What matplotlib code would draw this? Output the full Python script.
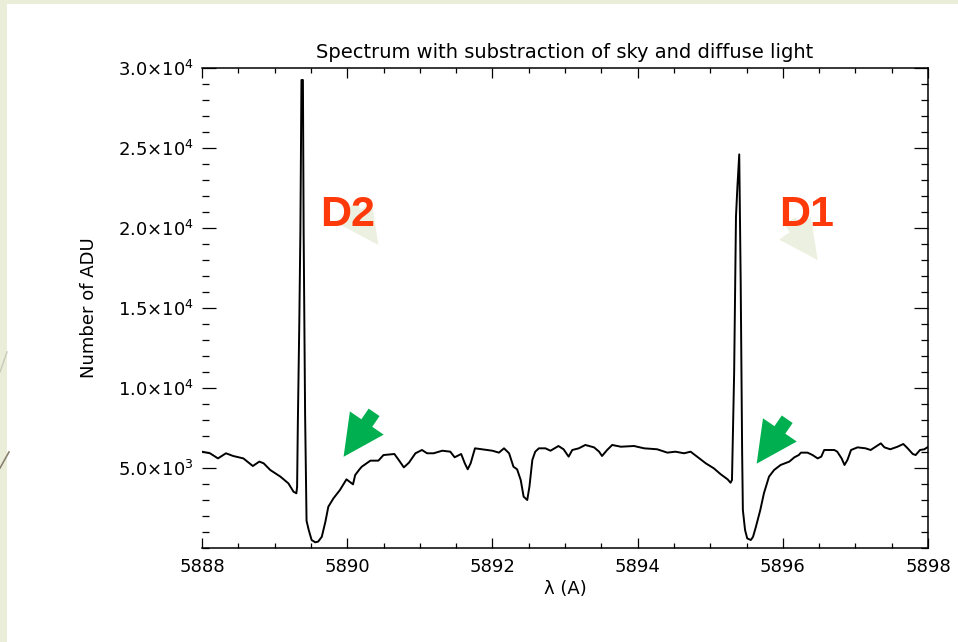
import numpy as np
import matplotlib
matplotlib.use('Agg')
import matplotlib.pyplot as plt
from matplotlib.ticker import MultipleLocator, FixedLocator
from matplotlib.patches import Rectangle
from matplotlib.lines import Line2D

# spectrum (wavelength in A, counts in ADU)
wavelength = [
    5888.00, 5888.11, 5888.22, 5888.33, 5888.43, 5888.57, 5888.70, 5888.79, 5888.85, 5888.94,
    5889.08, 5889.19, 5889.26, 5889.30, 5889.31, 5889.32, 5889.34, 5889.355, 5889.37, 5889.39,
    5889.40, 5889.42, 5889.44, 5889.47, 5889.51, 5889.56, 5889.60, 5889.65, 5889.70, 5889.74,
    5889.81, 5889.90, 5889.99, 5890.03, 5890.08, 5890.11, 5890.17, 5890.20, 5890.32, 5890.43,
    5890.50, 5890.65, 5890.71, 5890.78, 5890.85, 5890.94, 5891.03, 5891.10, 5891.19, 5891.31,
    5891.42, 5891.48, 5891.57, 5891.62, 5891.66, 5891.70, 5891.76, 5891.86, 5892.00, 5892.09,
    5892.16, 5892.23, 5892.29, 5892.34, 5892.39, 5892.43, 5892.48, 5892.51, 5892.55, 5892.59,
    5892.64, 5892.73, 5892.80, 5892.91, 5892.98, 5893.05, 5893.10, 5893.19, 5893.28, 5893.40,
    5893.47, 5893.51, 5893.58, 5893.65, 5893.77, 5893.95, 5894.09, 5894.27, 5894.41, 5894.52,
    5894.64, 5894.73, 5894.82, 5894.94, 5895.05, 5895.14, 5895.24, 5895.28, 5895.30, 5895.33,
    5895.355, 5895.375, 5895.40, 5895.42, 5895.44, 5895.45, 5895.48, 5895.51, 5895.56, 5895.59,
    5895.63, 5895.69, 5895.74, 5895.81, 5895.88, 5895.97, 5896.09, 5896.16, 5896.22, 5896.25,
    5896.34, 5896.41, 5896.48, 5896.53, 5896.57, 5896.71, 5896.75, 5896.81, 5896.85, 5896.89,
    5896.94, 5897.03, 5897.14, 5897.21, 5897.28, 5897.35, 5897.40, 5897.48, 5897.58, 5897.66,
    5897.72, 5897.79, 5897.83, 5897.89, 5897.95, 5897.99,
]
adu = [
    6020, 5920, 5600, 5920, 5750, 5600, 5125, 5400, 5290, 4875,
    4460, 4040, 3520, 3420, 3830, 7750, 14000, 19750, 29250, 29250,
    19750, 8400, 1700, 1125, 500, 355, 400, 700, 1650, 2580,
    3100, 3625, 4290, 4150, 3980, 4560, 4920, 5080, 5460, 5460,
    5810, 5875, 5500, 5040, 5330, 5920, 6125, 5920, 5920, 6080,
    6020, 5670, 5875, 5290, 4920, 5290, 6230, 6170, 6080, 5960,
    6230, 5920, 5080, 4920, 4250, 3210, 3000, 3830, 5500, 6020,
    6230, 6230, 6080, 6375, 6170, 5710, 6125, 6230, 6440, 6290,
    6020, 5750, 6125, 6440, 6330, 6375, 6230, 6170, 5960, 6020,
    5920, 6020, 5710, 5290, 4980, 4625, 4290, 4080, 4250, 11000,
    20700, 22600, 24600, 16600, 5940, 2375, 1125, 600, 500, 700,
    1330, 2375, 3420, 4460, 4875, 5190, 5400, 5670, 5810, 5960,
    5960, 5810, 5600, 5710, 6125, 6125, 6020, 5600, 5190, 5500,
    6125, 6290, 6230, 6125, 6330, 6540, 6290, 6170, 6330, 6500,
    6230, 5875, 5810, 6125, 6170, 6290,
]

x_ticks = [5888, 5890, 5892, 5894, 5896, 5898]
y_ticks = [5000, 10000, 15000, 20000, 25000, 30000]
y_labels = [r'$5.0{\times}10^{3}$', r'$1.0{\times}10^{4}$', r'$1.5{\times}10^{4}$',
            r'$2.0{\times}10^{4}$', r'$2.5{\times}10^{4}$', r'$3.0{\times}10^{4}$']

# line labels and where the green arrows point (wavelength, ADU)
line_names = ['D2', 'D1']
name_pos = [(5890.00, 20800), (5896.33, 20800)]
arrow_tips = [(5889.95, 5700), (5895.64, 5270)]
faint_tips = [(5890.43, 18940), (5896.48, 18000)]

plt.rcParams['mathtext.fontset'] = 'dejavusans'
fig = plt.figure(figsize=(9.58, 6.42), dpi=100)
fig.patch.set_facecolor('#eaeed9')
fig.patches.append(Rectangle((7 / 958, 0), 1, 1 - 4 / 642, transform=fig.transFigure,
                             facecolor='white', edgecolor='none', zorder=-10))
fig.lines.append(Line2D([0, 7 / 958], [1 - 372 / 642, 1 - 352 / 642], transform=fig.transFigure,
                        color='#c9c9b9', lw=1.0, zorder=-5))
fig.lines.append(Line2D([0, 9 / 958], [1 - 468 / 642, 1 - 452 / 642], transform=fig.transFigure,
                        color='#8a8270', lw=1.2, zorder=-5))

ax = fig.add_axes([202 / 958, 1 - 548 / 642, 726 / 958, 480 / 642])
ax.patch.set_alpha(0)
ax.plot(wavelength, adu, color='black', lw=1.4)
ax.set_xlim(5888, 5898)
ax.set_ylim(0, 30000)

ax.xaxis.set_major_locator(FixedLocator(x_ticks))
ax.xaxis.set_minor_locator(MultipleLocator(0.5))
ax.set_xticklabels([str(t) for t in x_ticks])
ax.yaxis.set_major_locator(FixedLocator(y_ticks))
ax.yaxis.set_minor_locator(MultipleLocator(1000))
ax.set_yticklabels(y_labels)

ax.tick_params(which='both', direction='in', top=True, right=True, width=0.9, labelsize=13)
ax.tick_params(axis='x', which='major', length=7, pad=7)
ax.tick_params(axis='x', which='minor', length=3.5)
ax.tick_params(axis='y', which='major', length=10, pad=6)
ax.tick_params(axis='y', which='minor', length=5)
ax.spines['left'].set_visible(False)
for s in ['top', 'right', 'bottom']:
    ax.spines[s].set_linewidth(1.1)

ax.set_title('Spectrum with substraction of sky and diffuse light', fontsize=14, pad=7)
ax.set_ylabel('Number of ADU', fontsize=13, labelpad=14)
ax.set_xlabel('\u03bb (A)', fontsize=13, labelpad=3)

# faint arrows behind the names
for tip in faint_tips:
    ax.annotate('', xy=tip, xytext=(-20, 28), textcoords='offset points',
                arrowprops=dict(arrowstyle='simple,head_length=2.8,head_width=2.8,tail_width=0.95',
                                color='#ecf0e0', lw=0, shrinkA=0, shrinkB=0))

for name, pos in zip(line_names, name_pos):
    ax.text(pos[0], pos[1], name, fontsize=31, fontweight='bold', color='#ff3a0a',
            ha='center', va='center', family='Liberation Sans')

for tip in arrow_tips:
    ax.annotate('', xy=tip, xytext=(22, 32), textcoords='offset points',
                arrowprops=dict(arrowstyle='simple,head_length=2.95,head_width=2.95,tail_width=0.95',
                                color='#00b050', lw=0, shrinkA=0, shrinkB=0))

fig.savefig('out.png', dpi=100, facecolor=fig.get_facecolor())
